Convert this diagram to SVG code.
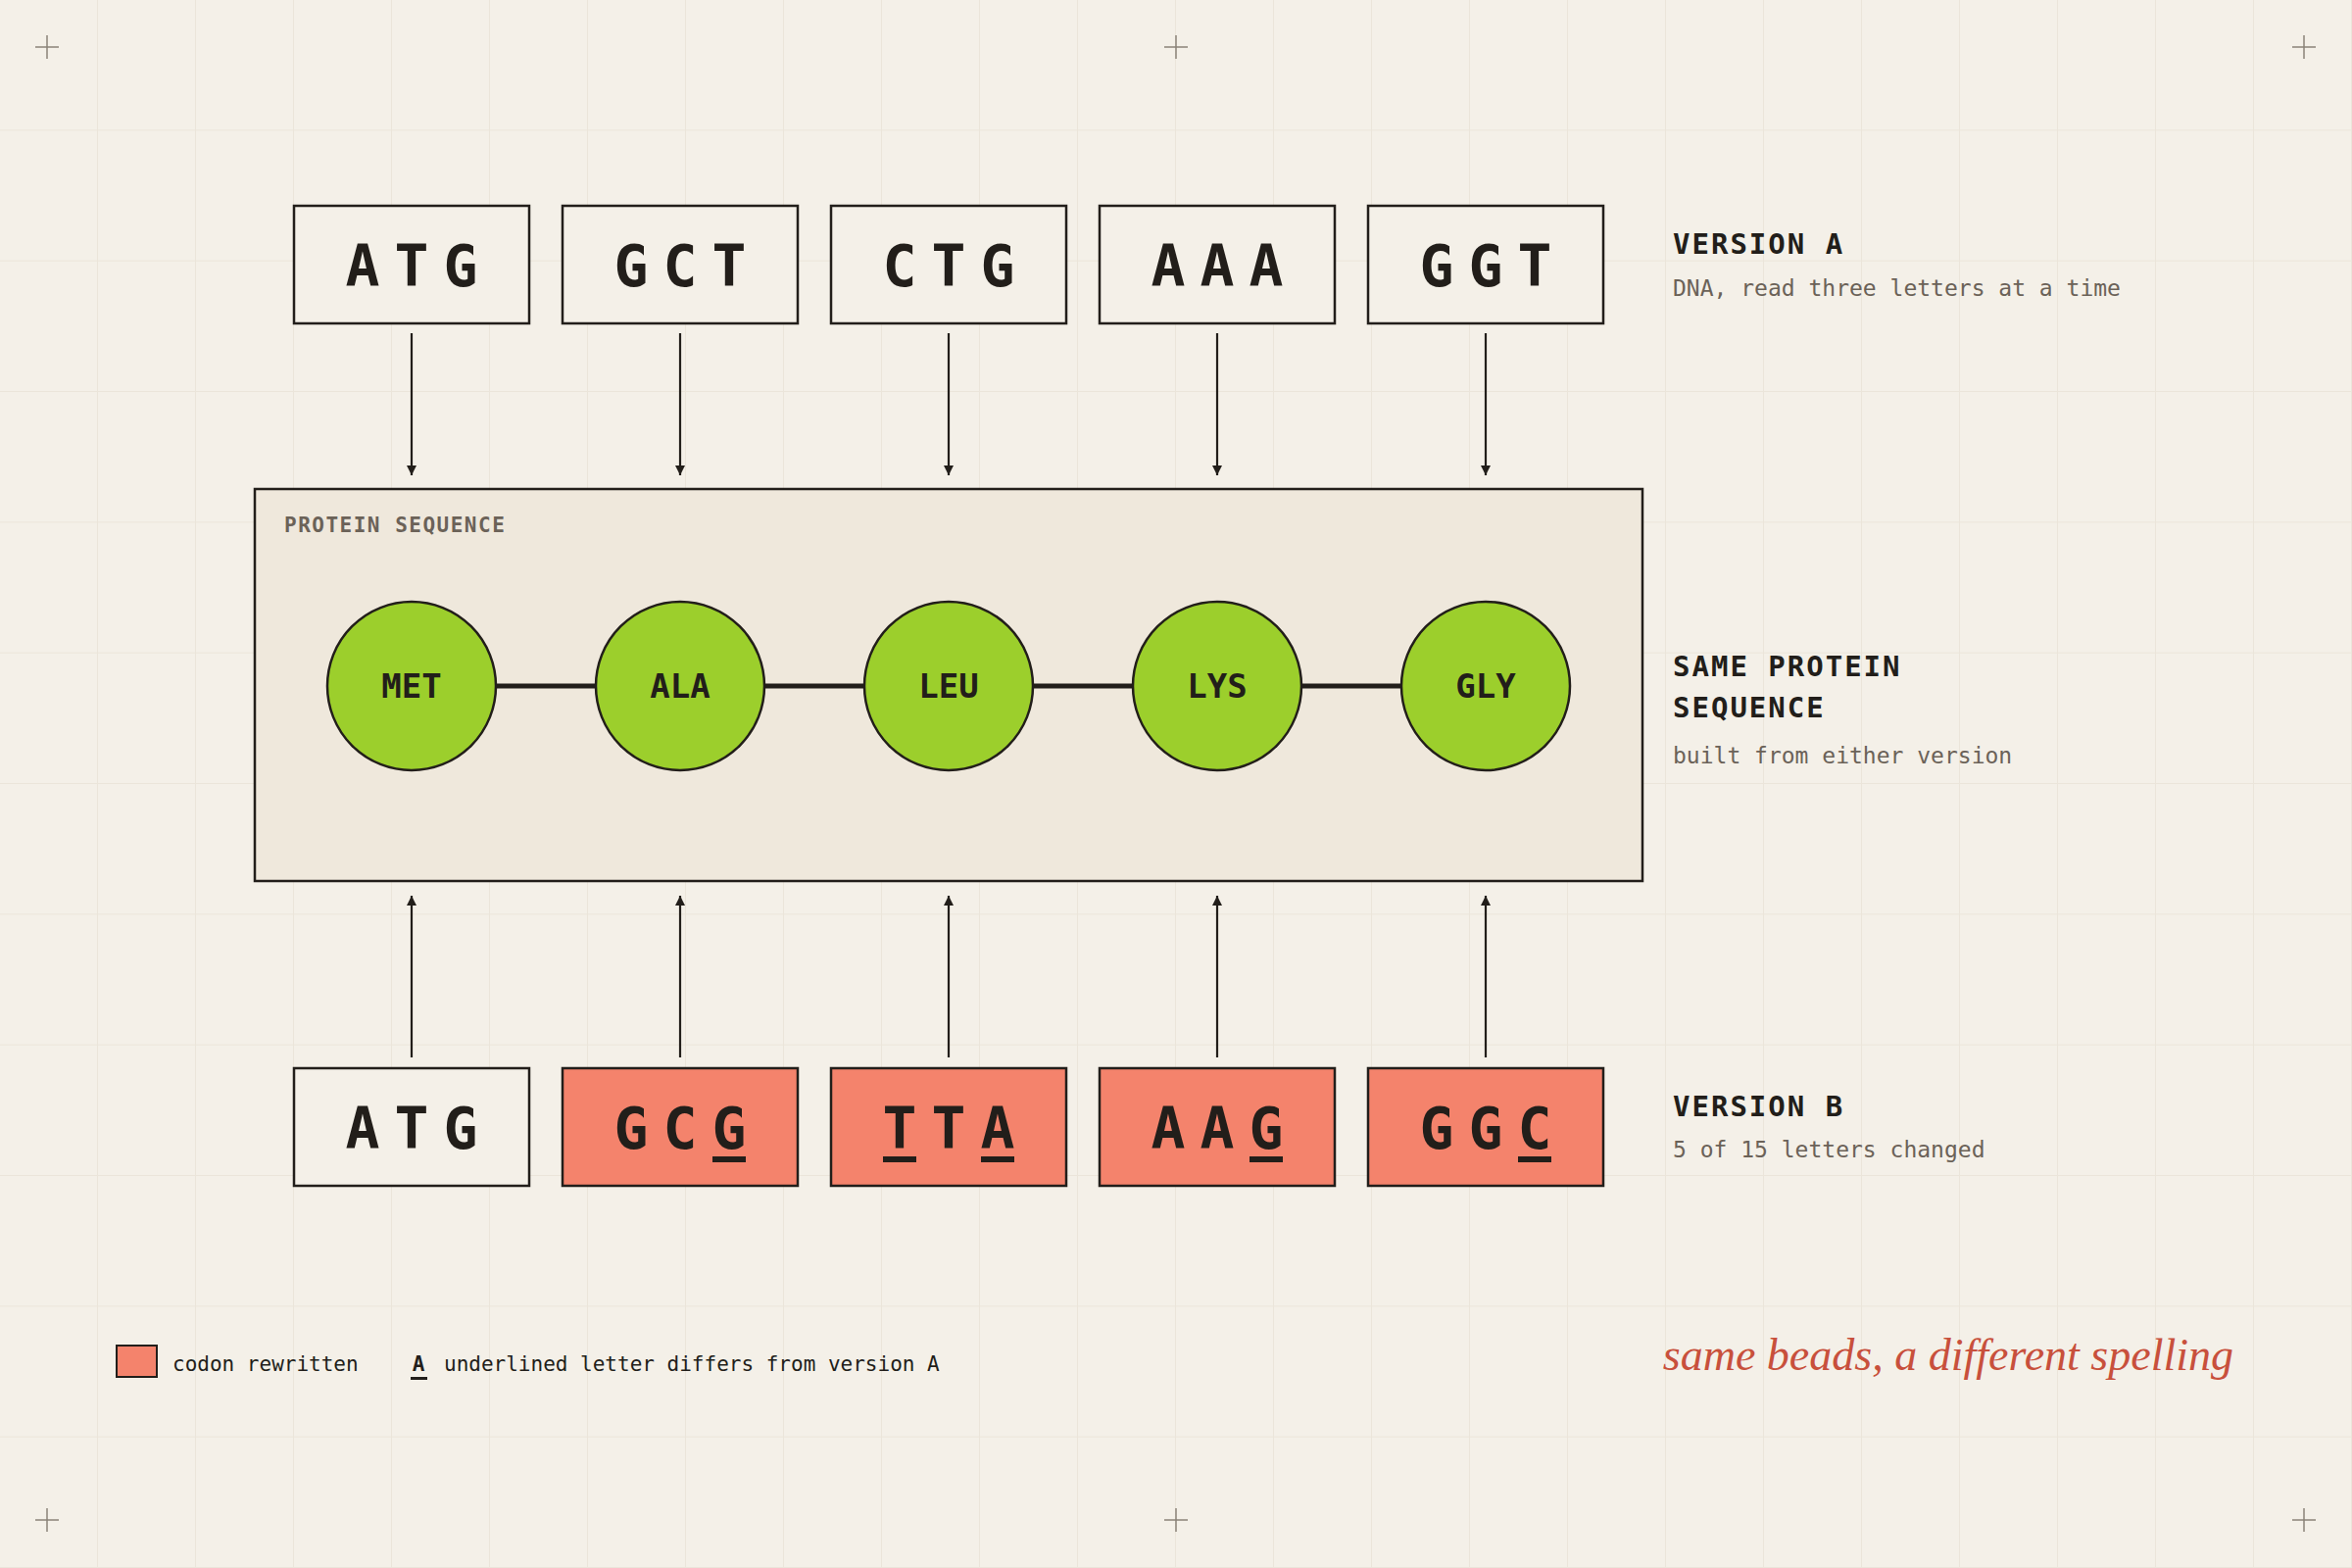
<svg xmlns="http://www.w3.org/2000/svg" width="2400" height="1600" viewBox="0 0 2400 1600">
<defs>
<pattern id="grid" width="100" height="133.333" patternUnits="userSpaceOnUse"><path d="M100 0V133.333M0 133.333H100" fill="none" stroke="#ebe5da" stroke-width="2"/></pattern>
<marker id="ah" viewBox="0 0 10 10" refX="10" refY="5" markerWidth="10" markerHeight="10" markerUnits="userSpaceOnUse" orient="auto"><path d="M0 0L10 5L0 10Z" fill="#221e1a"/></marker>
<style>
.box{fill:#f4f0e8;stroke:#221e1a;stroke-width:2.5}
.mut{fill:#f4836c;stroke:#221e1a;stroke-width:2.5}
.cod{font-family:"DejaVu Sans Mono","Liberation Mono",monospace;font-weight:bold;font-size:58px;fill:#221e1a;text-anchor:middle}
.bead{fill:#9ccf2c;stroke:#221e1a;stroke-width:2.5}
.bl{font-family:"DejaVu Sans Mono",monospace;font-weight:bold;font-size:34px;fill:#221e1a;text-anchor:middle}
.h{font-family:"DejaVu Sans Mono",monospace;font-weight:bold;font-size:29px;fill:#221e1a;letter-spacing:2px}
.s{font-family:"DejaVu Sans Mono",monospace;font-size:23px;fill:#6b6258}
.lg{font-family:"DejaVu Sans Mono",monospace;font-size:21px;fill:#221e1a}
.ar{stroke:#221e1a;stroke-width:2.2;fill:none;marker-end:url(#ah)}
.ul{fill:#221e1a}
.cr{stroke:#8a8278;stroke-width:1.5}
</style>
</defs>
<rect width="2400" height="1600" fill="#f4f0e8"/>
<rect width="2400" height="1600" fill="url(#grid)"/>
<g class="cr">
<path d="M36 48H60M48 36V60"/><path d="M1188 48H1212M1200 36V60"/><path d="M2339 48H2363M2351 36V60"/>
<path d="M36 1551H60M48 1539V1563"/><path d="M1188 1551H1212M1200 1539V1563"/><path d="M2339 1551H2363M2351 1539V1563"/>
</g>
<g id="protein-box">
<rect x="260" y="499" width="1416" height="400" fill="#efe8dc" stroke="#221e1a" stroke-width="2.5"/>
<text x="290" y="543" font-family="DejaVu Sans Mono,monospace" font-weight="bold" font-size="21" fill="#6b6258" letter-spacing="1.5">PROTEIN SEQUENCE</text>
</g>
<g id="connectors">
<path class="ar" d="M420 340V485"/><path class="ar" d="M694 340V485"/><path class="ar" d="M968 340V485"/><path class="ar" d="M1242 340V485"/><path class="ar" d="M1516 340V485"/>
<path class="ar" d="M420 1079V914"/><path class="ar" d="M694 1079V914"/><path class="ar" d="M968 1079V914"/><path class="ar" d="M1242 1079V914"/><path class="ar" d="M1516 1079V914"/>
<path d="M506 700H608M780 700H882M1054 700H1156M1328 700H1430" stroke="#221e1a" stroke-width="5"/>
</g>
<g id="a1"><rect class="box" x="300" y="210" width="240" height="120"/><text class="cod" y="292"><tspan x="370">A</tspan><tspan x="420">T</tspan><tspan x="470">G</tspan></text></g>
<g id="a2"><rect class="box" x="574" y="210" width="240" height="120"/><text class="cod" y="292"><tspan x="644">G</tspan><tspan x="694">C</tspan><tspan x="744">T</tspan></text></g>
<g id="a3"><rect class="box" x="848" y="210" width="240" height="120"/><text class="cod" y="292"><tspan x="918">C</tspan><tspan x="968">T</tspan><tspan x="1018">G</tspan></text></g>
<g id="a4"><rect class="box" x="1122" y="210" width="240" height="120"/><text class="cod" y="292"><tspan x="1192">A</tspan><tspan x="1242">A</tspan><tspan x="1292">A</tspan></text></g>
<g id="a5"><rect class="box" x="1396" y="210" width="240" height="120"/><text class="cod" y="292"><tspan x="1466">G</tspan><tspan x="1516">G</tspan><tspan x="1566">T</tspan></text></g>
<g id="met"><circle class="bead" cx="420" cy="700" r="86"/><text class="bl" x="420" y="712">MET</text></g>
<g id="ala"><circle class="bead" cx="694" cy="700" r="86"/><text class="bl" x="694" y="712">ALA</text></g>
<g id="leu"><circle class="bead" cx="968" cy="700" r="86"/><text class="bl" x="968" y="712">LEU</text></g>
<g id="lys"><circle class="bead" cx="1242" cy="700" r="86"/><text class="bl" x="1242" y="712">LYS</text></g>
<g id="gly"><circle class="bead" cx="1516" cy="700" r="86"/><text class="bl" x="1516" y="712">GLY</text></g>
<g id="b1"><rect class="box" x="300" y="1090" width="240" height="120"/><text class="cod" y="1172"><tspan x="370">A</tspan><tspan x="420">T</tspan><tspan x="470">G</tspan></text></g>
<g id="b2"><rect class="mut" x="574" y="1090" width="240" height="120"/><text class="cod" y="1172"><tspan x="644">G</tspan><tspan x="694">C</tspan><tspan x="744">G</tspan></text><rect class="ul" x="727" y="1180" width="34" height="6"/></g>
<g id="b3"><rect class="mut" x="848" y="1090" width="240" height="120"/><text class="cod" y="1172"><tspan x="918">T</tspan><tspan x="968">T</tspan><tspan x="1018">A</tspan></text><rect class="ul" x="901" y="1180" width="34" height="6"/><rect class="ul" x="1001" y="1180" width="34" height="6"/></g>
<g id="b4"><rect class="mut" x="1122" y="1090" width="240" height="120"/><text class="cod" y="1172"><tspan x="1192">A</tspan><tspan x="1242">A</tspan><tspan x="1292">G</tspan></text><rect class="ul" x="1275" y="1180" width="34" height="6"/></g>
<g id="b5"><rect class="mut" x="1396" y="1090" width="240" height="120"/><text class="cod" y="1172"><tspan x="1466">G</tspan><tspan x="1516">G</tspan><tspan x="1566">C</tspan></text><rect class="ul" x="1549" y="1180" width="34" height="6"/></g>
<g id="labels">
<text class="h" x="1707" y="259">VERSION A</text>
<text class="s" x="1707" y="302">DNA, read three letters at a time</text>
<text class="h" x="1707" y="690">SAME PROTEIN</text>
<text class="h" x="1707" y="732">SEQUENCE</text>
<text class="s" x="1707" y="779">built from either version</text>
<text class="h" x="1707" y="1139">VERSION B</text>
<text class="s" x="1707" y="1181">5 of 15 letters changed</text>
<text x="2279" y="1398" text-anchor="end" font-family="Liberation Serif,serif" font-style="italic" font-size="46" fill="#c8503c">same beads, a different spelling</text>
</g>
<g id="legend">
<rect x="119" y="1373" width="41" height="32" fill="#f4836c" stroke="#221e1a" stroke-width="2"/>
<text class="lg" x="176" y="1399">codon rewritten</text>
<text class="lg" x="427" y="1399" text-anchor="middle" font-weight="bold">A</text>
<rect x="419" y="1405" width="17" height="3" fill="#221e1a"/>
<text class="lg" x="453" y="1399">underlined letter differs from version A</text>
</g>
</svg>
